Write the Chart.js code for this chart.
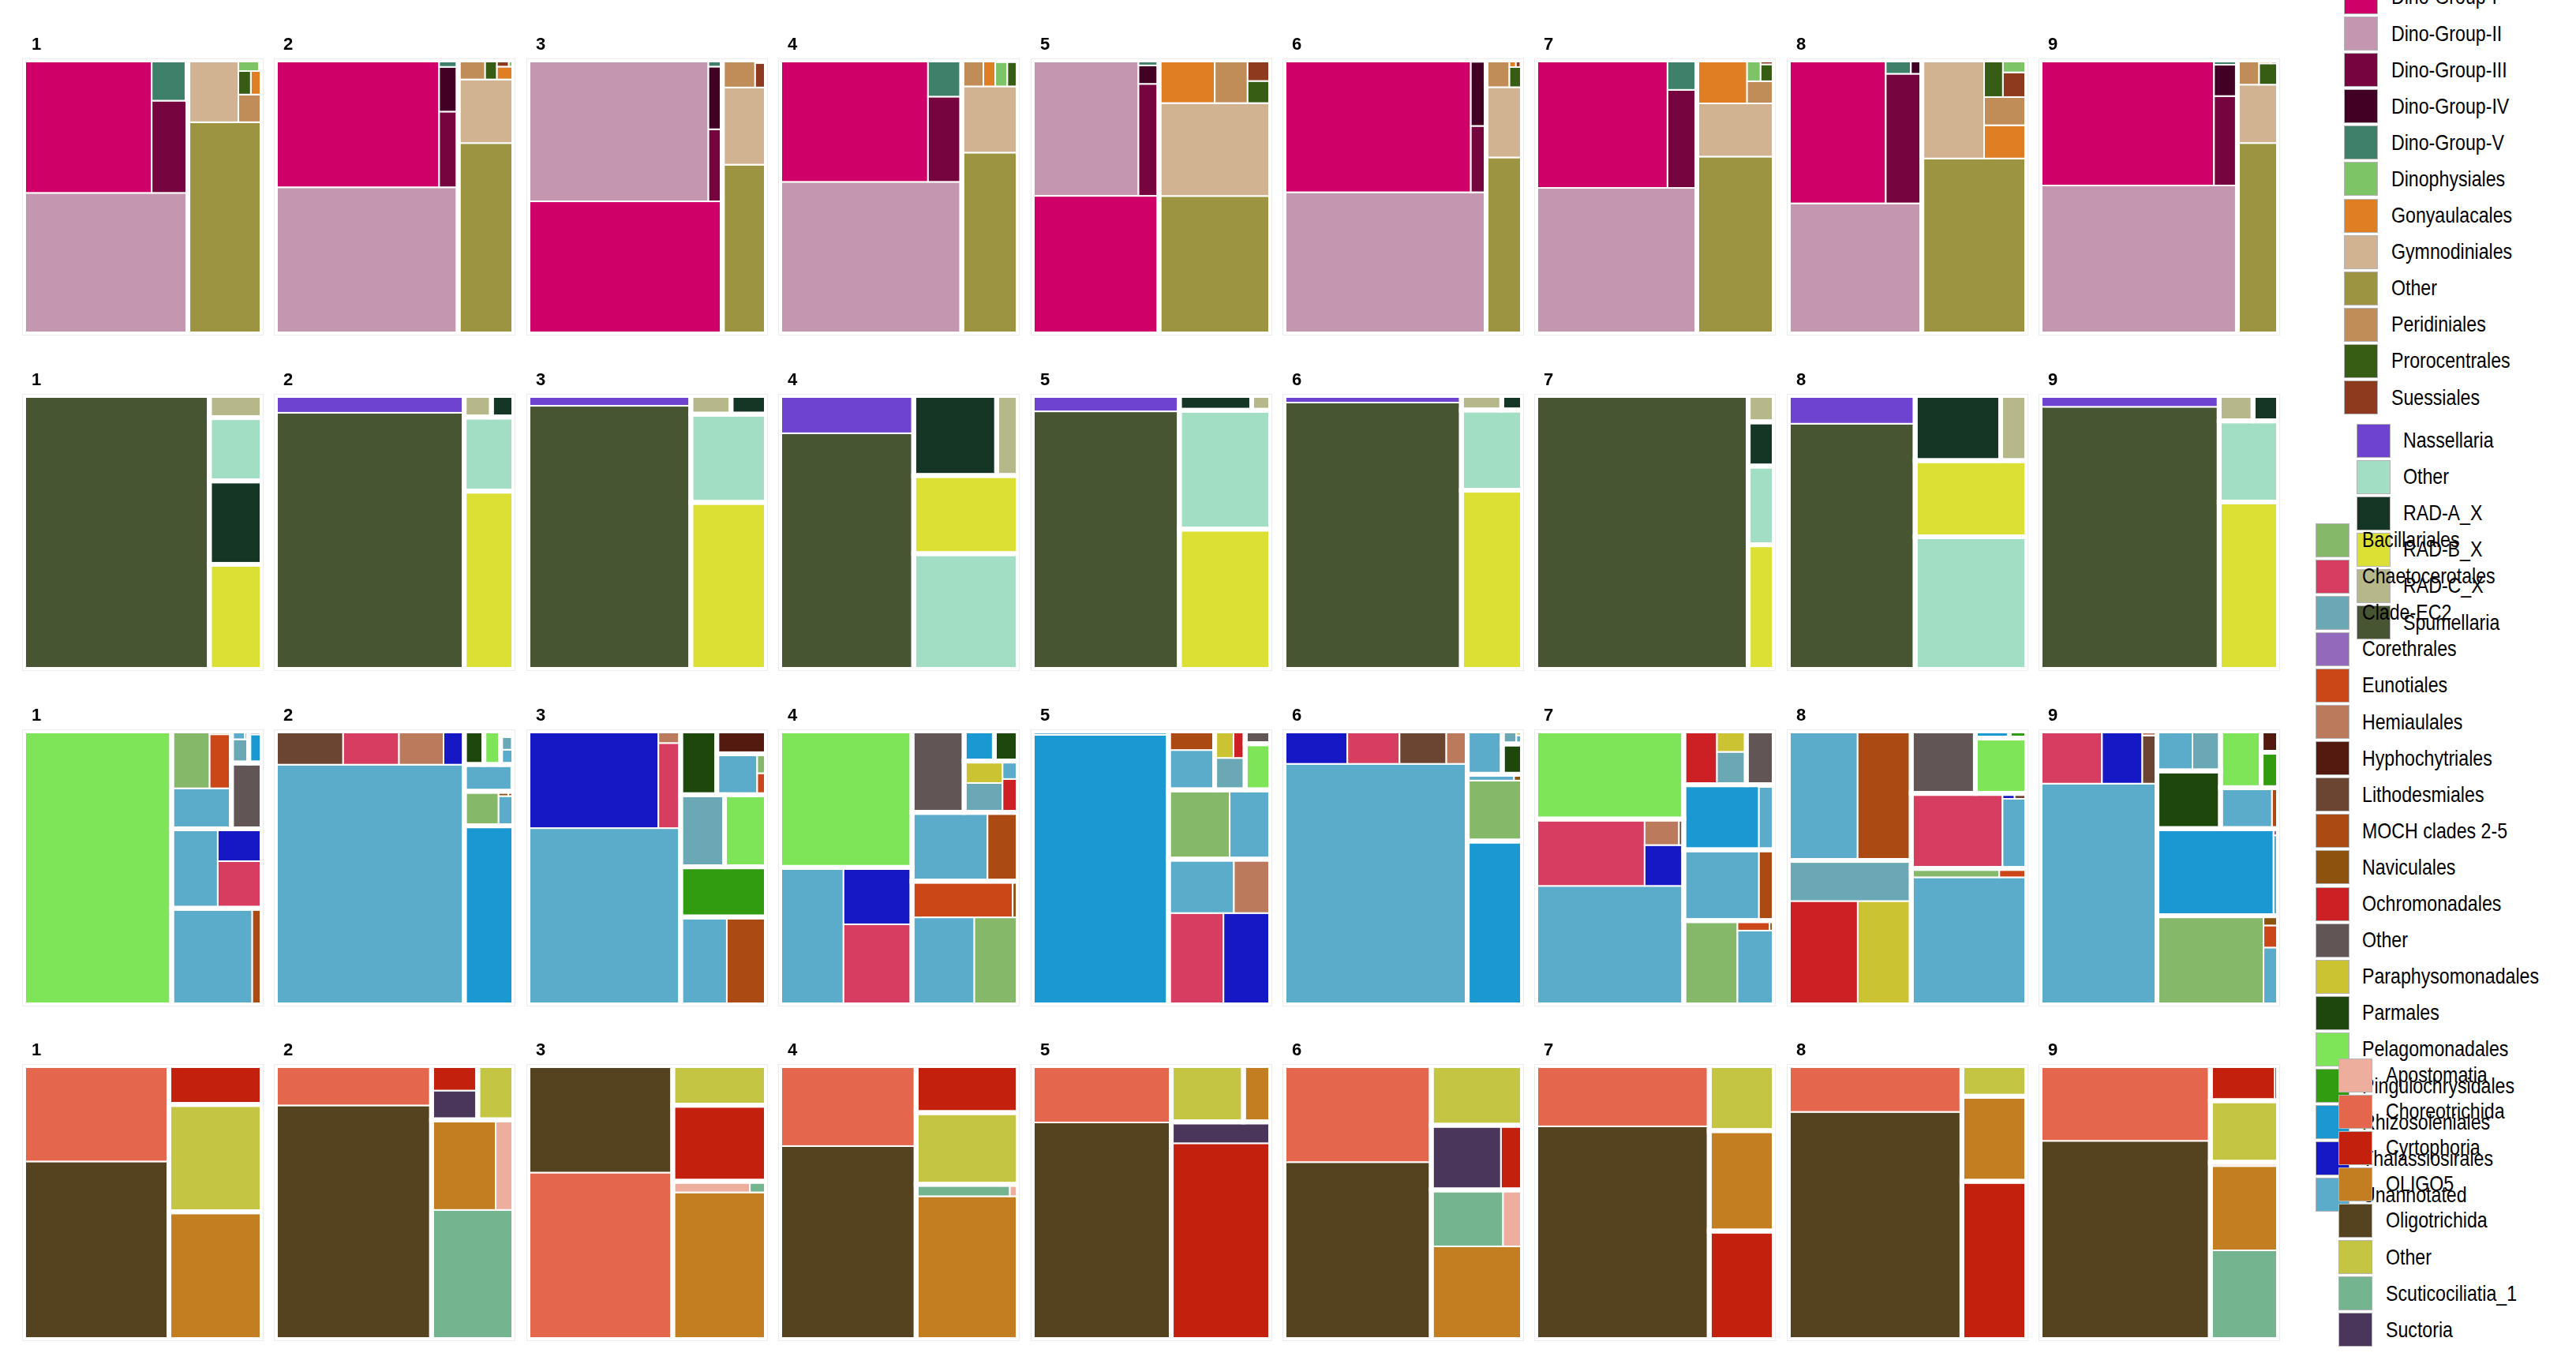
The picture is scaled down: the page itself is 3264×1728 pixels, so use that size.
<!DOCTYPE html>
<html>
<head>
<meta charset="utf-8">
<title>Protist order composition treemaps</title>
<script src="https://cdn.jsdelivr.net/npm/chart.js@4.4.1/dist/chart.umd.min.js"></script>
<style>
  html, body { margin: 0; padding: 0; background: #fff; }
  #page { position: relative; width: 3264px; height: 1728px; overflow: hidden; font-family: "Liberation Sans", Arial, sans-serif; }
  .panel { position: absolute; }
  .key { position: absolute; width: 43px; height: 43px; box-sizing: border-box; border: 1.5px solid #b3b3b3; }
  .lab { position: absolute; font-size: 28px; line-height: 28px; color: #000; white-space: nowrap; transform: scaleX(0.827); transform-origin: left center; }
</style>
</head>
<body>
<div id="page"></div>
<script>
// panel (station) labels
const panels = ['1', '2', '3', '4', '5', '6', '7', '8', '9'];

// ---- row 1: dinoflagellates ----
const dinoOrders = ['Dino-Group-I', 'Dino-Group-II', 'Dino-Group-III', 'Dino-Group-IV', 'Dino-Group-V',
  'Dinophysiales', 'Gonyaulacales', 'Gymnodiniales', 'Other', 'Peridiniales', 'Prorocentrales', 'Suessiales'];
const dinoColors = ['#CF0067', '#C496AF', '#75043F', '#420024', '#3F806A',
  '#7CC466', '#E07E24', '#D1B392', '#9C9441', '#C08C58', '#375C14', '#8E3A1E'];
const dinoClasses = ['Syndiniales', 'Syndiniales', 'Syndiniales', 'Syndiniales', 'Syndiniales',
  'Dinophyceae', 'Dinophyceae', 'Dinophyceae', 'Dinophyceae', 'Dinophyceae', 'Dinophyceae', 'Dinophyceae'];
const dinoValues = [
  [26.0, 35.4, 5.1, 0.15, 2.1, 0.35, 0.4, 4.8, 24.0, 1.0, 0.45, 0.05],
  [31.8, 40.9, 2.2, 1.3, 0.2, 0.05, 0.33, 5.4, 16.2, 0.8, 0.35, 0.12],
  [39.4, 39.0, 1.53, 1.33, 0.14, 0, 0, 5.2, 11.4, 1.38, 0.05, 0.42],
  [27.6, 42.3, 4.4, 0, 1.89, 0.45, 0.48, 5.7, 15.6, 0.87, 0.4, 0.07],
  [26.8, 22.1, 3.52, 0.58, 0.17, 0, 3.68, 15.9, 23.6, 2.17, 0.78, 0.74],
  [37.8, 43.8, 1.55, 1.5, 0.04, 0.02, 0.07, 3.9, 9.8, 0.97, 0.4, 0.05],
  [25.8, 36.0, 4.4, 0, 1.34, 0.44, 3.34, 6.3, 21.0, 0.92, 0.35, 0.09],
  [21.4, 26.7, 7.16, 0.23, 0.53, 0.45, 2.17, 9.4, 28.2, 1.84, 1.07, 0.9],
  [33.4, 44.8, 3.2, 1.12, 0.17, 0, 0.06, 3.67, 12.0, 0.82, 0.63, 0.04]
];

// ---- row 2: radiolaria ----
const radOrders = ['Nassellaria', 'Other', 'RAD-A_X', 'RAD-B_X', 'RAD-C_X', 'Spumellaria'];
const radColors = ['#6D43D0', '#A2DEC3', '#153525', '#DDE034', '#B7B88A', '#485533'];
const radClasses = ['Polycystinea', 'Other', 'RAD-A', 'RAD-B', 'RAD-C', 'Polycystinea'];
const radValues = [
  [0.2, 5.1, 6.73, 8.47, 1.79, 77.7],
  [5.0, 5.63, 0.74, 13.55, 0.9, 74.2],
  [2.57, 10.2, 1.01, 19.3, 1.15, 65.7],
  [7.75, 18.5, 10.17, 12.5, 2.63, 48.45],
  [3.57, 16.6, 1.64, 19.6, 0.43, 58.1],
  [1.93, 7.5, 0.46, 16.75, 0.9, 72.5],
  [0, 3.13, 1.76, 4.96, 1.05, 89.1],
  [5.48, 22.65, 8.53, 13.0, 2.6, 47.7],
  [3.1, 7.37, 0.99, 15.2, 1.32, 72.0]
];

// ---- row 3: ochrophytes & co ----
const ochroOrders = ['Bacillariales', 'Chaetocerotales', 'Clade-EC2', 'Corethrales', 'Eunotiales', 'Hemiaulales',
  'Hyphochytriales', 'Lithodesmiales', 'MOCH clades 2-5', 'Naviculales', 'Ochromonadales', 'Other',
  'Paraphysomonadales', 'Parmales', 'Pelagomonadales', 'Pinguiochrysidales', 'Rhizosoleniales',
  'Thalassiosirales', 'Unannotated'];
const ochroColors = ['#86B86A', '#D63D60', '#6AA8B5', '#9369BB', '#CC4718', '#BB7A5C',
  '#551A0F', '#6B4432', '#AC4A14', '#8E520F', '#CC2024', '#615556',
  '#CCC332', '#1D470B', '#7EE458', '#329C10', '#1A98D1',
  '#1518C4', '#5BACCB'];
// one column per (class, order) pair
const ochroClasses = ['Pelagophyceae', 'Ochrophyta_X', 'Ochrophyta_X', 'Mediophyceae', 'Mediophyceae',
  'Mediophyceae', 'Mediophyceae', 'Mediophyceae', 'Bacillariophyceae', 'Bacillariophyceae',
  'Bacillariophyceae', 'Bacillariophyceae', 'Coscinodiscophyceae', 'Coscinodiscophyceae',
  'Coscinodiscophyceae', 'Chrysophyceae', 'Chrysophyceae', 'Chrysophyceae', 'Chrysophyceae',
  'Bolidophyceae', 'Pinguiophyceae', 'Hyphochytriomycetes', 'Other'];
const ochroTaxa = ['Pelagomonadales', 'Unannotated', 'MOCH clades 2-5', 'Unannotated', 'Chaetocerotales',
  'Thalassiosirales', 'Hemiaulales', 'Lithodesmiales', 'Unannotated', 'Bacillariales',
  'Eunotiales', 'Naviculales', 'Rhizosoleniales', 'Unannotated',
  'Corethrales', 'Clade-EC2', 'Ochromonadales', 'Paraphysomonadales', 'Unannotated',
  'Parmales', 'Pinguiochrysidales', 'Hyphochytriales', 'Other'];
const ochroValues = [
  [62.0, 11.9, 1.44, 5.6, 3.19, 2.19, 0, 0, 3.7, 3.33, 1.8, 0.11, 0.58, 0, 0.07, 0.63, 0, 0.05, 0.17, 0, 0, 0, 3.08],
  [0.85, 1.92, 0.1, 69.2, 2.87, 1.07, 2.29, 3.48, 0.69, 1.8, 0.04, 0.07, 13.5, 0, 0, 0.25, 0, 0.04, 0.3, 1.0, 0, 0.06, 0.03],
  [4.6, 6.2, 5.3, 41.2, 2.89, 19.35, 0.41, 0, 2.53, 0.27, 0.3, 0, 0, 0, 0, 4.83, 0, 0, 0, 3.52, 6.57, 1.73, 0],
  [27.8, 8.0, 3.24, 13.5, 8.5, 6.0, 0, 0, 8.4, 5.9, 5.6, 0.3, 1.4, 0, 0, 1.74, 0.8, 1.3, 0.43, 1.1, 0, 0, 6.54],
  [1.8, 2.82, 1.35, 5.4, 7.74, 6.63, 3.03, 0, 4.35, 6.5, 0, 0, 56.3, 0.8, 0, 1.49, 0.48, 0.78, 0, 0, 0, 0, 0.5],
  [0, 2.32, 0, 67.4, 2.62, 3.18, 1.05, 2.35, 0.45, 5.1, 0, 0.08, 13.8, 0, 0, 0.28, 0, 0.04, 0.08, 0.93, 0, 0, 0],
  [20.0, 8.17, 1.65, 27.0, 11.15, 2.45, 1.37, 0.19, 4.18, 6.94, 0.49, 0.07, 7.5, 1.47, 0.05, 1.48, 2.74, 0.94, 0, 0, 0, 0, 2.3],
  [4.34, 13.7, 10.6, 2.57, 10.46, 0.1, 0, 0.1, 22.5, 1.19, 0.37, 0, 0.37, 0, 0, 7.62, 11.0, 8.48, 0, 0, 0.19, 0, 6.12],
  [3.5, 3.2, 0.4, 39.2, 4.94, 3.22, 0.1, 1.07, 1.3, 14.4, 0.5, 0.22, 15.4, 0.6, 0.05, 1.7, 0, 0, 2.15, 5.56, 0.93, 0.56, 0]
];

// ---- row 4: ciliates ----
const cilOrders = ['Apostomatia', 'Choreotrichida', 'Cyrtophoria', 'OLIGO5', 'Oligotrichida', 'Other',
  'Scuticociliatia_1', 'Suctoria'];
const cilColors = ['#EEAE9E', '#E4664D', '#C4200E', '#C47E22', '#55421F', '#C5C544', '#74B48E', '#4A365A'];
const cilClasses = ['Oligohymenophorea', 'Spirotrichea', 'Phyllopharyngea', 'Oligohymenophorea', 'Spirotrichea',
  'Other', 'Oligohymenophorea', 'Phyllopharyngea'];
const cilValues = [
  [0, 21.3, 5.54, 18.2, 39.6, 15.3, 0, 0],
  [2.49, 9.5, 1.76, 8.84, 55.9, 2.99, 16.3, 2.07],
  [1.31, 37.0, 10.9, 21.1, 23.7, 5.68, 0.28, 0],
  [0.15, 16.8, 7.34, 22.38, 40.4, 11.2, 1.71, 0],
  [0, 12.1, 29.89, 2.34, 46.2, 6.23, 0, 3.25],
  [1.67, 21.75, 2.12, 13.0, 40.0, 8.32, 6.2, 6.9],
  [0, 16.15, 10.8, 10.0, 56.7, 6.47, 0, 0],
  [0, 12.3, 15.7, 8.44, 60.5, 3.04, 0, 0],
  [0.39, 19.6, 3.46, 8.79, 51.8, 6.42, 9.3, 0.2]
];

const rows = [
  { groups: dinoClasses, taxa: dinoOrders, values: dinoValues, orders: dinoOrders, colors: dinoColors,
    legend: { key: 2970, text: 3030, y: -3.6 } },
  { groups: radClasses, taxa: radOrders, values: radValues, orders: radOrders, colors: radColors,
    legend: { key: 2986, text: 3045, y: 558 } },
  { groups: ochroClasses, taxa: ochroTaxa, values: ochroValues, orders: ochroOrders, colors: ochroColors,
    legend: { key: 2934, text: 2993, y: 684 } },
  { groups: cilClasses, taxa: cilOrders, values: cilValues, orders: cilOrders, colors: cilColors,
    legend: { key: 2963, text: 3023, y: 1362 } }
];

// squarified layout, starting bottom-left
function worst(row, side) {
  const s = row.reduce((a, r) => a + r.area, 0);
  let w = 0;
  for (const r of row) {
    w = Math.max(w, side * side * r.area / (s * s), (s * s) / (side * side * r.area));
  }
  return w;
}

function squarify(items, x, y, w, h) {
  const out = [];
  let rest = items.filter(d => d.area > 0);
  while (rest.length) {
    const vertical = w >= h;
    const side = vertical ? h : w;
    let n = 1;
    while (n < rest.length && worst(rest.slice(0, n + 1), side) <= worst(rest.slice(0, n), side)) n++;
    const row = rest.slice(0, n);
    const thick = row.reduce((a, r) => a + r.area, 0) / side;
    let off = 0;
    for (const r of row) {
      const len = r.area / thick;
      out.push(vertical
        ? { item: r, x0: x, x1: x + thick, y0: y + off, y1: y + off + len }
        : { item: r, x0: x + off, x1: x + off + len, y0: y, y1: y + thick });
      off += len;
    }
    if (vertical) { x += thick; w -= thick; } else { y += thick; h -= thick; }
    rest = rest.slice(n);
  }
  return out;
}

function layoutPanel(row, p) {
  const vals = row.values[p];
  const total = vals.reduce((a, v) => a + v, 0);
  const byGroup = new Map();
  vals.forEach((v, k) => {
    if (v <= 0) return;
    const g = row.groups[k];
    if (!byGroup.has(g)) byGroup.set(g, { name: g, area: 0, items: [] });
    const grp = byGroup.get(g);
    grp.area += v / total;
    grp.items.push({ name: row.taxa[k], area: v / total });
  });
  const groups = [...byGroup.values()].sort((a, b) => b.area - a.area);
  const tiles = [], boxes = [];
  for (const gb of squarify(groups, 0, 0, 1, 1)) {
    boxes.push(gb);
    const items = gb.item.items.slice().sort((a, b) => b.area - a.area);
    for (const t of squarify(items, gb.x0, gb.y0, gb.x1 - gb.x0, gb.y1 - gb.y0)) {
      t.color = row.colors[row.orders.indexOf(t.item.name)];
      tiles.push(t);
    }
  }
  const pt = d => ({ x: (d.x0 + d.x1) / 2, y: (d.y0 + d.y1) / 2, x0: d.x0, x1: d.x1, y0: d.y0, y1: d.y1, color: d.color, name: d.item.name });
  return { tiles: tiles.map(pt), boxes: boxes.map(pt) };
}

const treemapPlugin = {
  id: 'treemapTiles',
  afterDatasetsDraw(chart, args, opts) {
    const { ctx, chartArea: a, scales: { x, y } } = chart;
    const box = d => {
      const l = x.getPixelForValue(d.x0), r = x.getPixelForValue(d.x1);
      const t = y.getPixelForValue(d.y1), b = y.getPixelForValue(d.y0);
      return [l, t, r - l, b - t];
    };
    ctx.save();
    ctx.beginPath();
    ctx.rect(a.left, a.top, a.width, a.height);
    ctx.clip();
    ctx.strokeStyle = '#ffffff';
    ctx.lineWidth = 2;
    for (const d of chart.data.datasets[0].data) {
      const [l, t, w, h] = box(d);
      ctx.fillStyle = d.color;
      ctx.fillRect(l, t, w, h);
      ctx.strokeRect(l, t, w, h);
    }
    ctx.lineWidth = 6;
    for (const d of chart.data.datasets[1].data) {
      const [l, t, w, h] = box(d);
      ctx.strokeRect(l, t, w, h);
    }
    ctx.restore();
    ctx.save();
    ctx.strokeStyle = '#ececec';
    ctx.lineWidth = 1;
    ctx.strokeRect(a.left - 1.5, a.top - 1.5, a.width + 3, a.height + 3);
    ctx.fillStyle = '#000';
    ctx.font = 'bold 22px "Liberation Sans", Arial, sans-serif';
    ctx.fillText(opts.label, a.left + 10, a.top - 13);
    ctx.restore();
  }
};

const page = document.getElementById('page');
const PW = 302, PH = 347;
const colX = i => 30 + 319.4 * i;
const rowY = r => 76 + 424.8 * r;

rows.forEach((row, r) => {
  panels.forEach((label, p) => {
    const { tiles, boxes } = layoutPanel(row, p);
    const div = document.createElement('div');
    div.className = 'panel';
    div.style.left = (colX(p) - 3) + 'px';
    div.style.top = (rowY(r) - 40) + 'px';
    div.style.width = (PW + 6) + 'px';
    div.style.height = (PH + 43) + 'px';
    const cv = document.createElement('canvas');
    div.appendChild(cv);
    page.appendChild(div);
    new Chart(cv, {
      type: 'scatter',
      data: {
        datasets: [
          { label: 'tiles', data: tiles, pointRadius: 0 },
          { label: 'groups', data: boxes, pointRadius: 0 }
        ]
      },
      options: {
        responsive: true,
        maintainAspectRatio: false,
        animation: false,
        events: [],
        layout: { padding: { top: 40, left: 3, right: 3, bottom: 3 } },
        scales: {
          x: { type: 'linear', min: 0, max: 1, display: false },
          y: { type: 'linear', min: 0, max: 1, display: false }
        },
        plugins: {
          legend: { display: false },
          tooltip: { enabled: false },
          treemapTiles: { label: label }
        }
      },
      plugins: [treemapPlugin]
    });
  });
});

// legends, one per row, drawn in order so later ones overlap earlier ones
rows.forEach(row => {
  row.orders.forEach((name, k) => {
    const cy = row.legend.y + 46.1 * k;
    const key = document.createElement('div');
    key.className = 'key';
    key.style.left = row.legend.key + 'px';
    key.style.top = (cy - 21.5) + 'px';
    key.style.background = row.colors[k];
    page.appendChild(key);
    const lab = document.createElement('div');
    lab.className = 'lab';
    lab.style.left = row.legend.text + 'px';
    lab.style.top = (cy - 14) + 'px';
    lab.textContent = name;
    page.appendChild(lab);
  });
});
</script>
</body>
</html>
